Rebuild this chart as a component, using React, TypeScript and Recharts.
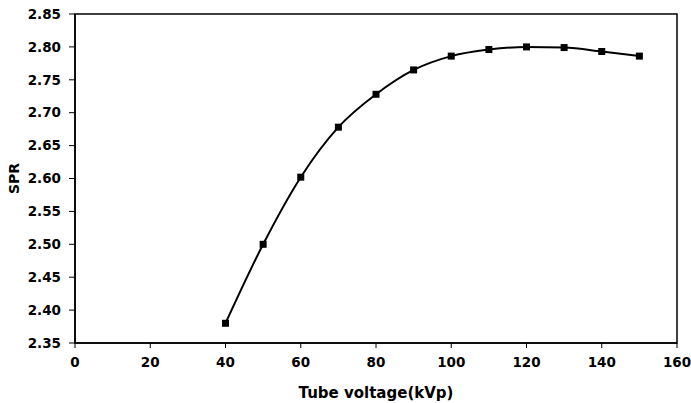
import React from 'react';
import {
  LineChart,
  Line,
  XAxis,
  YAxis,
  ReferenceArea,
} from 'recharts';

// Tube voltage (kVp) vs SPR
const voltages = [40, 50, 60, 70, 80, 90, 100, 110, 120, 130, 140, 150];
const sprValues = [2.38, 2.5, 2.602, 2.678, 2.728, 2.765, 2.786, 2.796, 2.8, 2.799, 2.793, 2.786];

const xTicks = [0, 20, 40, 60, 80, 100, 120, 140, 160];
const yTicks = [2.35, 2.4, 2.45, 2.5, 2.55, 2.6, 2.65, 2.7, 2.75, 2.8, 2.85];

const data = voltages.map((v, i) => ({ kvp: v, spr: sprValues[i] }));

const FONT = '"DejaVu Sans", sans-serif';
const tickStyle = { fill: '#000', fontSize: 13.5, fontWeight: 700, fontFamily: FONT };

// square marker like the Excel original
const SquareDot = (props: any) => {
  const { cx, cy } = props;
  if (cx == null || cy == null) return null;
  return <rect x={cx - 3.5} y={cy - 3.5} width={7} height={7} fill="#000" />;
};

export default function App() {
  return (
    <div style={{ position: 'absolute', left: 0, top: 0, width: 691, height: 403, background: '#fff' }}>
      <LineChart width={691} height={403} data={data} margin={{ top: 14, right: 14, bottom: 0, left: 0 }}>
        <XAxis
          type="number"
          dataKey="kvp"
          domain={[0, 160]}
          ticks={xTicks}
          interval={0}
          height={60}
          tick={tickStyle}
          tickSize={5}
          tickMargin={9}
          axisLine={{ stroke: '#000', strokeWidth: 1.5 }}
          tickLine={{ stroke: '#000' }}
          label={{
            value: 'Tube voltage(kVp)',
            position: 'insideBottom',
            offset: 5,
            style: { fill: '#000', fontSize: 15, fontWeight: 700, fontFamily: FONT },
          }}
        />
        <YAxis
          type="number"
          domain={[2.35, 2.85]}
          ticks={yTicks}
          interval={0}
          width={75}
          tick={tickStyle}
          tickSize={6}
          tickMargin={8}
          tickFormatter={(v) => Number(v).toFixed(2)}
          axisLine={{ stroke: '#000', strokeWidth: 1.5 }}
          tickLine={{ stroke: '#000' }}
          label={{
            value: 'SPR',
            angle: -90,
            position: 'insideLeft',
            offset: 14,
            style: { fill: '#000', fontSize: 14, fontWeight: 700, fontFamily: FONT, textAnchor: 'middle' },
          }}
        />
        <ReferenceArea x1={0} x2={160} y1={2.35} y2={2.85} fill="none" fillOpacity={0} stroke="#000" strokeWidth={1.5} />
        <Line
          type="monotone"
          dataKey="spr"
          stroke="#000"
          strokeWidth={2}
          dot={<SquareDot />}
          activeDot={false}
          isAnimationActive={false}
        />
      </LineChart>
    </div>
  );
}
